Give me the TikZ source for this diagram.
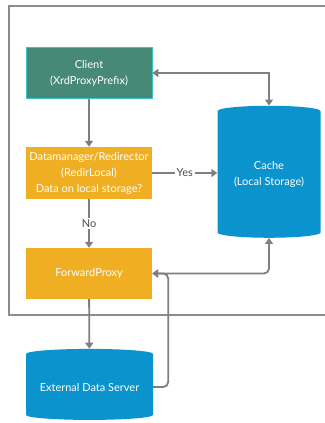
\documentclass[tikz,border=0pt]{standalone}
\usepackage{fontspec}
\setmainfont{Lato}
\usepackage{tikz}
\usetikzlibrary{shapes.geometric, arrows.meta, positioning, calc}

\definecolor{clientgreen}{HTML}{468A76}
\definecolor{clientedge}{HTML}{3CC3C8}
\definecolor{proxyorange}{HTML}{F0AE22}
\definecolor{storeblue}{HTML}{0B93CE}
\definecolor{linegray}{HTML}{7F7F7F}
\definecolor{framegray}{HTML}{8C8C8C}

\begin{document}
\begin{tikzpicture}[x=1pt, y=-1pt,
  every node/.style={font=\fontsize{11}{16}\selectfont, text=white, align=center},
  box/.style={rectangle, minimum width=126pt, minimum height=51pt, inner sep=0pt},
  store/.style={cylinder, shape border rotate=90, fill=storeblue, inner sep=0pt},
  link/.style={draw=linegray, line width=1.8pt, -{Triangle[width=8pt,length=6pt]}},
  answer/.style={fill=white, text=black!70, inner sep=2pt}]
\useasboundingbox (0,0) rectangle (324,423);

% Outer frame (runs off the right edge)
\draw[framegray, line width=1.2pt] (330,6) -| (9,315) -- (330,315);

% Client and the two proxy boxes
\node[box, fill=clientgreen, draw=clientedge, line width=0.6pt] (client) at (89,73) {Client\\(XrdProxyPrefix)};
\node[box, fill=proxyorange, minimum height=52pt] (redir) at (89,173) {Datamanager/Redirector\\(RedirLocal)\\Data on local storage?};
\node[box, fill=proxyorange] (fwd) at (89,273.5) {\raisebox{-2pt}{ForwardProxy}};

% Storage
\node[store, minimum width=103pt, minimum height=132pt, aspect=0.15] (cache) at (269,174.5) {Cache\\(Local Storage)};
\node[store, minimum width=127pt, minimum height=71pt, aspect=0.1] (ext) at (89.5,387) {External Data Server};

% Connectors
\coordinate (bend) at ([xshift=16pt]fwd.east);
\draw[link] (client) -- (redir);
\draw[link, {Triangle[width=8pt,length=6pt]}-{Triangle[width=8pt,length=6pt]}] (client.east) -| (cache.north);
\draw[link] (redir.east) -- node[answer] {Yes} (redir.east -| cache.west);
\draw[link] (redir) -- node[answer] {No} (fwd);
\draw[link] (fwd) -- (ext);
\draw[link, rounded corners=5pt, {Triangle[width=8pt,length=6pt]}-{Triangle[width=8pt,length=6pt]}] (cache.south) |- (fwd.east);
\draw[link, rounded corners=5pt] (ext.east) -| (bend) -- (fwd.east);
\end{tikzpicture}
\end{document}
